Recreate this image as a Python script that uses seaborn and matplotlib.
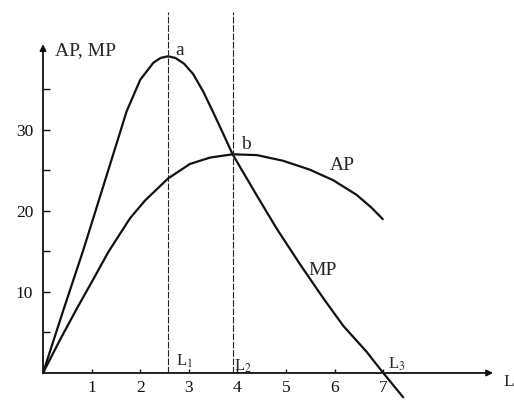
import matplotlib
matplotlib.use('Agg')
import matplotlib.pyplot as plt
from matplotlib.ticker import FixedLocator
import pandas as pd
import seaborn as sns

# values
mp_labor = [0, 0.41, 0.83, 1.2, 1.58, 1.72, 2.0, 2.27, 2.42, 2.57, 2.72, 2.9,
            3.09, 3.3, 3.5, 3.71, 3.9, 4.4, 4.81, 5.29, 5.77, 6.18, 6.66,
            7.0, 7.41]
mp_values = [0, 7.6, 15.2, 22.3, 29.6, 32.3, 36.2, 38.3, 38.9, 39.1, 38.9,
             38.2, 36.9, 34.7, 32.2, 29.5, 27.0, 21.9, 17.8, 13.4, 9.2, 5.8,
             2.6, 0, -3.0]
ap_labor = [0, 0.35, 0.7, 1.0, 1.34, 1.79, 2.1, 2.57, 3.02, 3.44, 3.9, 4.4,
            4.94, 5.49, 5.97, 6.45, 6.76, 6.99]
ap_values = [0, 4.1, 8.0, 11.2, 14.9, 19.1, 21.3, 24.0, 25.8, 26.6, 27.0,
             26.9, 26.2, 25.1, 23.8, 22.0, 20.4, 19.0]
x_ticks = [1, 2, 3, 4, 5, 6, 7]
y_major = [10, 20, 30]
y_minor = [5, 15, 25, 35]
l1, l2, l3 = 2.57, 3.9, 7.0

sns.set_style('white')
plt.rcParams['font.family'] = ['Liberation Serif', 'DejaVu Serif']
plt.rcParams['mathtext.fontset'] = 'stix'

mp = pd.DataFrame({'L': mp_labor, 'MP': mp_values})
ap = pd.DataFrame({'L': ap_labor, 'AP': ap_values})

fig = plt.figure(figsize=(5.14, 4.01), dpi=100)
ax = fig.add_axes([0, 0, 1, 1])
ax.set_xlim(-0.885, 9.69)
ax.set_ylim(-3.46, 46.05)

sns.lineplot(data=mp, x='L', y='MP', ax=ax, color='#111111', lw=1.6,
             sort=False, estimator=None)
sns.lineplot(data=ap, x='L', y='AP', ax=ax, color='#111111', lw=1.6,
             sort=False, estimator=None)
for line in ax.lines:
    line.set_solid_joinstyle('round')

# vertical guides at L1 and L2
for xv in (l1, l2):
    ax.plot([xv, xv], [0, 44.6], color='#222222', lw=0.8,
            ls=(0, (6, 1.5)))

# axes with arrow heads
for s in ax.spines.values():
    s.set_visible(False)
ax.spines['left'].set_position(('data', 0))
ax.spines['bottom'].set_position(('data', 0))
arrow = dict(arrowstyle='-|>', lw=1.3, color='#111111', mutation_scale=9,
             shrinkA=0, shrinkB=0)
ax.annotate('', xy=(0, 40.6), xytext=(0, 0), arrowprops=arrow)
ax.annotate('', xy=(9.26, 0), xytext=(0, 0), arrowprops=arrow)

ax.xaxis.set_major_locator(FixedLocator(x_ticks))
ax.yaxis.set_major_locator(FixedLocator(y_major))
ax.yaxis.set_minor_locator(FixedLocator(y_minor))
ax.tick_params(axis='x', bottom=True, direction='in', length=3, width=1,
               pad=5, labelsize=12.5, colors='#111111')
ax.tick_params(axis='y', which='both', left=True, direction='in', length=5,
               width=1, pad=7, labelsize=12.5, colors='#111111')
ax.set_xlabel('')
ax.set_ylabel('')

# labels
ax.text(0.25, 39.3, 'AP, MP', fontsize=14, va='baseline')
ax.text(2.72, 39.3, 'a', fontsize=14, va='baseline')
ax.text(4.07, 27.7, 'b', fontsize=14, va='baseline')
ax.text(5.9, 25.1, 'AP', fontsize=14, va='baseline')
ax.text(5.45, 12.1, 'MP', fontsize=14, va='baseline')
ax.text(2.74, 0.9, r'L$_1$', fontsize=12, va='baseline')
ax.text(3.93, 0.25, r'L$_2$', fontsize=12, va='baseline')
ax.text(7.1, 0.5, r'L$_3$', fontsize=12, va='baseline')
ax.text(9.47, -1.1, 'L', fontsize=12.5, va='center')

fig.savefig('out.png', dpi=100)
